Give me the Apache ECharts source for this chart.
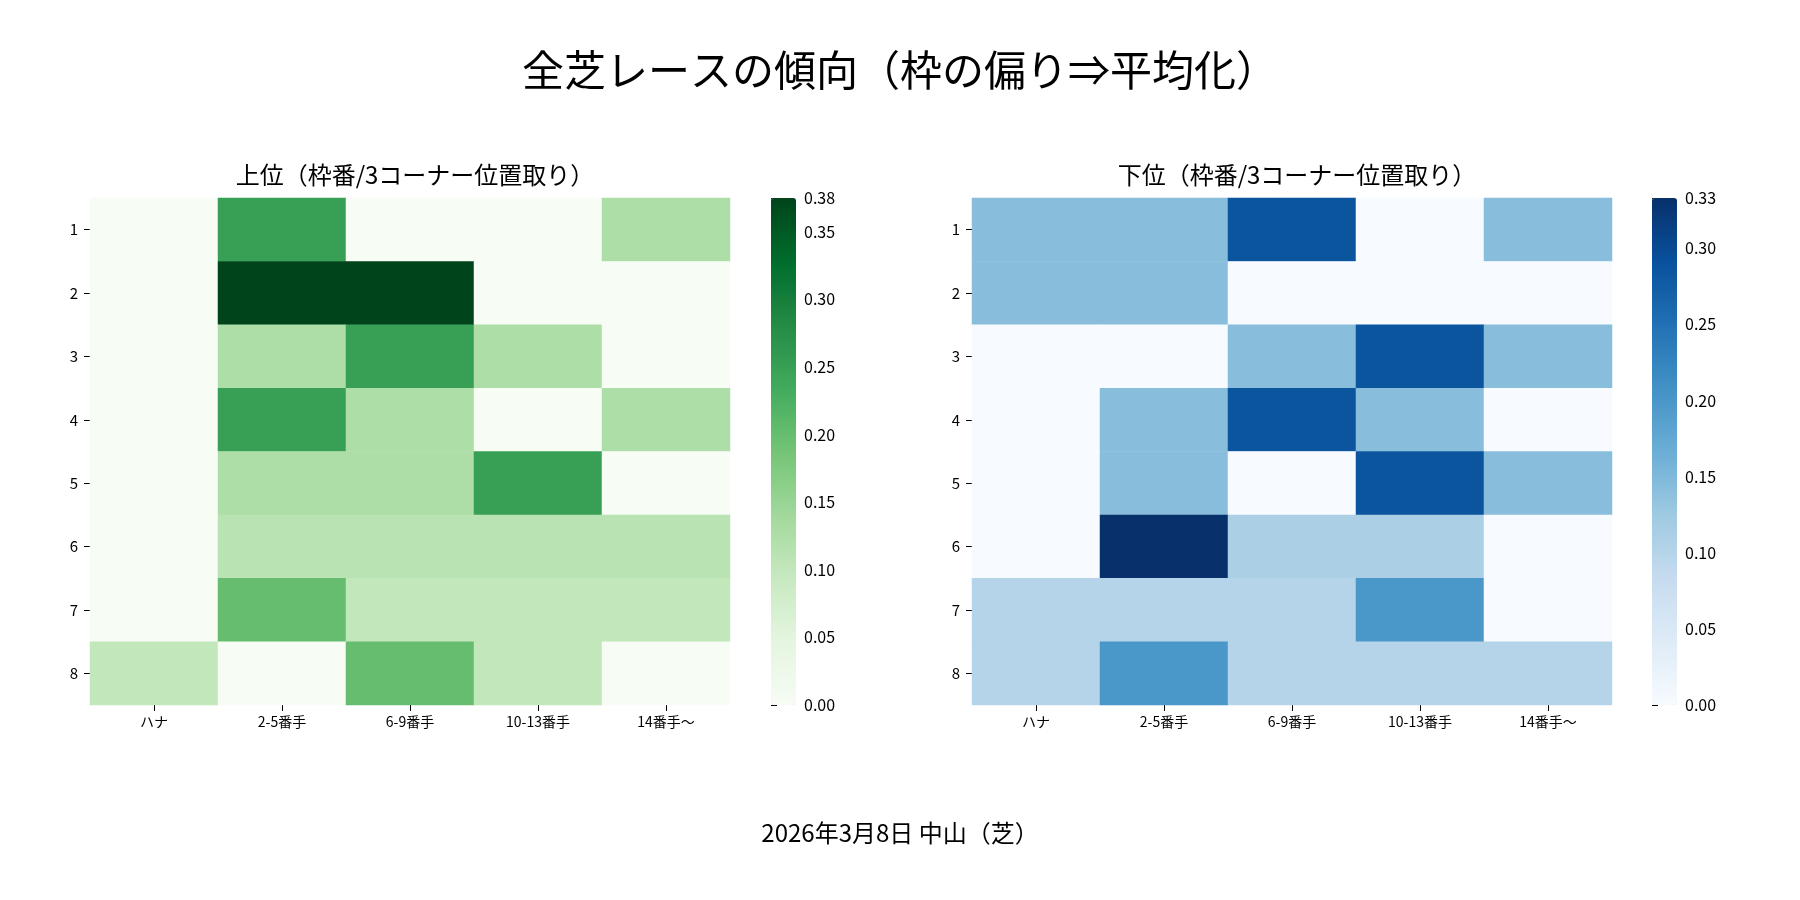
<!DOCTYPE html>
<html><head><meta charset="utf-8">
<script src="https://cdn.jsdelivr.net/npm/echarts@6/dist/echarts.min.js"></script>
<style>html,body{margin:0;background:#fff}#c{width:1800px;height:900px}</style>
</head><body><div id="c"></div>
<script>
const cols = ["ハナ", "2-5番手", "6-9番手", "10-13番手", "14番手〜"];
const rows = ["1", "2", "3", "4", "5", "6", "7", "8"];
// 上位 (rows = 枠 1..8)
const upper = [
  [0, 0.25, 0, 0, 0.125],
  [0, 0.375, 0.375, 0, 0],
  [0, 0.125, 0.25, 0.125, 0],
  [0, 0.25, 0.125, 0, 0.125],
  [0, 0.125, 0.125, 0.25, 0],
  [0, 0.111, 0.111, 0.111, 0.111],
  [0, 0.2, 0.1, 0.1, 0.1],
  [0.1, 0, 0.2, 0.1, 0]
];
// 下位
const lower = [
  [0.143, 0.143, 0.286, 0, 0.143],
  [0.143, 0.143, 0, 0, 0],
  [0, 0, 0.143, 0.286, 0.143],
  [0, 0.143, 0.286, 0.143, 0],
  [0, 0.143, 0, 0.286, 0.143],
  [0, 0.333, 0.111, 0.111, 0],
  [0.1, 0.1, 0.1, 0.2, 0],
  [0.1, 0.2, 0.1, 0.1, 0.1]
];
const greens = ["#f7fcf5","#e5f5e0","#c7e9c0","#a1d99b","#74c476","#41ab5d","#238b45","#006d2c","#00441b"];
const blues = ["#f7fbff","#deebf7","#c6dbef","#9ecae1","#6baed6","#4292c6","#2171b5","#08519c","#08306b"];
const upperMax = 0.375, lowerMax = 0.333;

const toCells = (m) => m.flatMap((r, i) => r.map((v, j) => [j, i, v]));
const font = "'Noto Sans CJK JP', sans-serif";

const catX = (gi) => ({
  type: "category", gridIndex: gi, data: cols,
  axisLine: { show: false }, splitLine: { show: false },
  axisTick: { show: true, alignWithLabel: true, length: 6, lineStyle: { color: "#000" } },
  axisLabel: { color: "#000", fontSize: 14, margin: 10, fontFamily: font }
});
const catY = (gi) => ({
  type: "category", gridIndex: gi, data: rows, inverse: true,
  axisLine: { show: false }, splitLine: { show: false },
  axisTick: { show: true, alignWithLabel: true, length: 6, lineStyle: { color: "#000" } },
  axisLabel: { color: "#000", fontSize: 15, margin: 12, fontFamily: font }
});
const barX = (gi) => ({ type: "value", gridIndex: gi, show: false, min: 0, max: 1 });
const barY = (gi, max) => ({
  type: "value", gridIndex: gi, position: "right", min: 0, max: max, interval: 0.05,
  axisLine: { show: false }, splitLine: { show: false },
  axisTick: { show: true, length: 6, lineStyle: { color: "#000" } },
  axisLabel: { color: "#000", fontSize: 16, margin: 8, fontFamily: font, formatter: (v) => v.toFixed(2) }
});

const gridTop = 198, gridH = 507;
const chart = echarts.init(document.getElementById("c"));
chart.setOption({
  backgroundColor: "#fff",
  textStyle: { fontFamily: font },
  title: [
    { text: "全芝レースの傾向（枠の偏り⇒平均化）", left: "center", top: 44, textStyle: { fontSize: 42, fontWeight: "normal", color: "#000", fontFamily: font } },
    { text: "上位（枠番/3コーナー位置取り）", left: 410, top: 158, textAlign: "center", textStyle: { fontSize: 24, fontWeight: "normal", color: "#000", fontFamily: font } },
    { text: "下位（枠番/3コーナー位置取り）", left: 1292, top: 158, textAlign: "center", textStyle: { fontSize: 24, fontWeight: "normal", color: "#000", fontFamily: font } },
    { text: "2026年3月8日 中山（芝）", left: "center", top: 816, textStyle: { fontSize: 24, fontWeight: "normal", color: "#000", fontFamily: font } }
  ],
  grid: [
    { left: 90, width: 640, top: gridTop, height: gridH },
    { left: 972, width: 640, top: gridTop, height: gridH },
    { left: 771, width: 25, top: gridTop, height: gridH },
    { left: 1652, width: 25, top: gridTop, height: gridH }
  ],
  xAxis: [catX(0), catX(1), barX(2), barX(3)],
  yAxis: [catY(0), catY(1), barY(2, upperMax), barY(3, lowerMax)],
  visualMap: [
    { type: "continuous", seriesIndex: 0, dimension: 2, min: 0, max: upperMax, show: true,
      left: 771, top: gridTop, itemWidth: 25, itemHeight: gridH, padding: 0, calculable: false,
      text: null, showLabel: false, inRange: { color: greens } },
    { type: "continuous", seriesIndex: 1, dimension: 2, min: 0, max: lowerMax, show: true,
      left: 1652, top: gridTop, itemWidth: 25, itemHeight: gridH, padding: 0, calculable: false,
      text: null, showLabel: false, inRange: { color: blues } }
  ],
  series: [
    { type: "heatmap", xAxisIndex: 0, yAxisIndex: 0, data: toCells(upper), itemStyle: { borderWidth: 0 }, emphasis: { disabled: true } },
    { type: "heatmap", xAxisIndex: 1, yAxisIndex: 1, data: toCells(lower), itemStyle: { borderWidth: 0 }, emphasis: { disabled: true } }
  ]
});
</script></body></html>
